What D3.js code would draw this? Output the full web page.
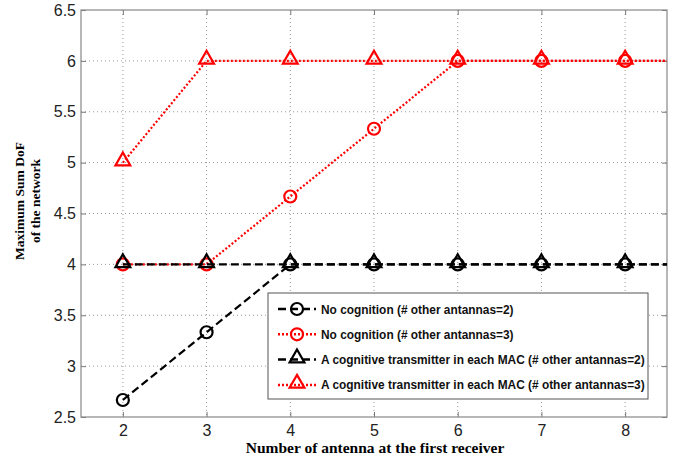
<!DOCTYPE html>
<html>
<head>
<meta charset="utf-8">
<script src="https://cdn.jsdelivr.net/npm/d3@7"></script>
<style>
  body { margin: 0; background: #fff; }
  svg { display: block; }
</style>
</head>
<body>
<svg id="chart"></svg>
<script>
// x values: number of antennas at the first receiver (9 lies past the axis limit, clipped)
const antennas = [2, 3, 4, 5, 6, 7, 8, 9];
const noCog2 = [2.667, 3.333, 4, 4, 4, 4, 4, 4];
const noCog3 = [4, 4, 4.667, 5.333, 6, 6, 6, 6];
const cogTx2 = [4, 4, 4, 4, 4, 4, 4, 4];
const cogTx3 = [5, 6, 6, 6, 6, 6, 6, 6];

const xTicks = [2, 3, 4, 5, 6, 7, 8];
const yTicks = [2.5, 3, 3.5, 4, 4.5, 5, 5.5, 6, 6.5];

const seriesNames = [
  'No cognition (# other antannas=2)',
  'No cognition (# other antannas=3)',
  'A cognitive transmitter in each MAC (# other antannas=2)',
  'A cognitive transmitter in each MAC (# other antannas=3)'
];

const W = 678, H = 459;
const margin = {top: 10, right: 11, bottom: 42, left: 81};
const width = W - margin.left - margin.right;
const height = H - margin.top - margin.bottom;

const series = [
  {name: seriesNames[0], values: noCog2, color: '#000', dash: '8,4', marker: 'circle'},
  {name: seriesNames[1], values: noCog3, color: '#ff0000', dash: '2,2', marker: 'circle'},
  {name: seriesNames[2], values: cogTx2, color: '#000', dash: '8,4', marker: 'triangle'},
  {name: seriesNames[3], values: cogTx3, color: '#ff0000', dash: '2,2', marker: 'triangle'}
];

const svg = d3.select('#chart').attr('width', W).attr('height', H);
const g = svg.append('g').attr('transform', 'translate(' + margin.left + ',' + margin.top + ')');

const x = d3.scaleLinear().domain([1.5, 8.5]).range([0, width]);
const y = d3.scaleLinear().domain([2.5, 6.5]).range([height, 0]);

g.append('clipPath').attr('id', 'plotclip')
  .append('rect').attr('width', width).attr('height', height);

// dotted grid
g.append('g').selectAll('line').data(xTicks).enter().append('line')
  .attr('x1', d => x(d)).attr('x2', d => x(d))
  .attr('y1', 0).attr('y2', height)
  .attr('stroke', '#9a9a9a').attr('stroke-width', 1).attr('stroke-dasharray', '1,3');
g.append('g').selectAll('line').data(yTicks.slice(1, -1)).enter().append('line')
  .attr('x1', 0).attr('x2', width)
  .attr('y1', d => y(d)).attr('y2', d => y(d))
  .attr('stroke', '#9a9a9a').attr('stroke-width', 1).attr('stroke-dasharray', '1,3');

// axes, matlab style ticks pointing inward
const tickStyle = sel => {
  sel.select('.domain').remove();
  sel.selectAll('.tick line').attr('stroke', '#777');
  sel.selectAll('.tick text')
    .style('font-family', '"Liberation Sans", Arial, sans-serif')
    .style('font-size', '16px').attr('fill', '#222');
};
g.append('g').attr('transform', 'translate(0,' + height + ')')
  .call(d3.axisBottom(x).tickValues(xTicks).tickSize(-5).tickPadding(8).tickFormat(d3.format('d')))
  .call(tickStyle);
g.append('g')
  .call(d3.axisTop(x).tickValues(xTicks).tickSize(-5).tickFormat(''))
  .call(tickStyle);
g.append('g')
  .call(d3.axisLeft(y).tickValues(yTicks).tickSize(-5).tickPadding(5).tickFormat(d3.format('')))
  .call(tickStyle);
g.append('g').attr('transform', 'translate(' + width + ',0)')
  .call(d3.axisRight(y).tickValues(yTicks).tickSize(-5).tickFormat(''))
  .call(tickStyle);

g.append('rect')
  .attr('width', width).attr('height', height)
  .attr('fill', 'none').attr('stroke', '#888').attr('stroke-width', 1.2);

// series
const line = d3.line().x((d, i) => x(antennas[i])).y(d => y(d));
const triangle = d3.symbol().type(d3.symbolTriangle).size(95);

const drawMarker = (sel, s, cx, cy) => {
  if (s.marker === 'circle') {
    sel.append('circle').attr('cx', cx).attr('cy', cy).attr('r', 6)
      .attr('fill', 'none').attr('stroke', s.color).attr('stroke-width', 2.2);
  } else {
    sel.append('path').attr('d', triangle())
      .attr('transform', 'translate(' + cx + ',' + (cy - 1.5) + ')')
      .attr('fill', 'none').attr('stroke', s.color).attr('stroke-width', 2.2)
      .attr('stroke-linejoin', 'miter');
  }
};

const plot = g.append('g').attr('clip-path', 'url(#plotclip)');
series.forEach(s => {
  const sg = plot.append('g');
  sg.append('path').datum(s.values)
    .attr('d', line)
    .attr('fill', 'none')
    .attr('stroke', s.color)
    .attr('stroke-width', 2.2)
    .attr('stroke-dasharray', s.dash);
  s.values.forEach((v, i) => {
    if (antennas[i] <= x.domain()[1]) drawMarker(sg, s, x(antennas[i]), y(v));
  });
});

// axis titles
svg.append('text')
  .attr('x', 375).attr('y', 453)
  .attr('text-anchor', 'middle')
  .style('font-family', '"Liberation Serif", "Times New Roman", serif')
  .style('font-weight', 'bold').style('font-size', '15.5px')
  .text('Number of antenna at the first receiver');

const yTitle = svg.append('text')
  .attr('transform', 'translate(24,201) rotate(-90)')
  .attr('text-anchor', 'middle')
  .style('font-family', '"Liberation Serif", "Times New Roman", serif')
  .style('font-weight', 'bold').style('font-size', '13.5px');
yTitle.append('tspan').attr('x', 0).attr('dy', 0).text('Maximum Sum DoF');
yTitle.append('tspan').attr('x', 0).attr('dy', 15.5).text('of the network');

// legend
const legend = svg.append('g').attr('transform', 'translate(268,293)');
legend.append('rect')
  .attr('width', 380).attr('height', 106)
  .attr('fill', '#fff').attr('stroke', '#555').attr('stroke-width', 1);
series.forEach((s, i) => {
  const ly = 16 + i * 25.3;
  const row = legend.append('g');
  row.append('line')
    .attr('x1', 10).attr('x2', 48).attr('y1', ly).attr('y2', ly)
    .attr('stroke', s.color).attr('stroke-width', 2.5).attr('stroke-dasharray', s.dash);
  drawMarker(row, s, 29, ly);
  row.append('text')
    .attr('x', 53).attr('y', ly + 4.5)
    .style('font-family', '"Liberation Sans", Arial, sans-serif')
    .style('font-weight', 'bold').style('font-size', '11.9px')
    .attr('fill', '#111')
    .text(s.name);
});
</script>
</body>
</html>
